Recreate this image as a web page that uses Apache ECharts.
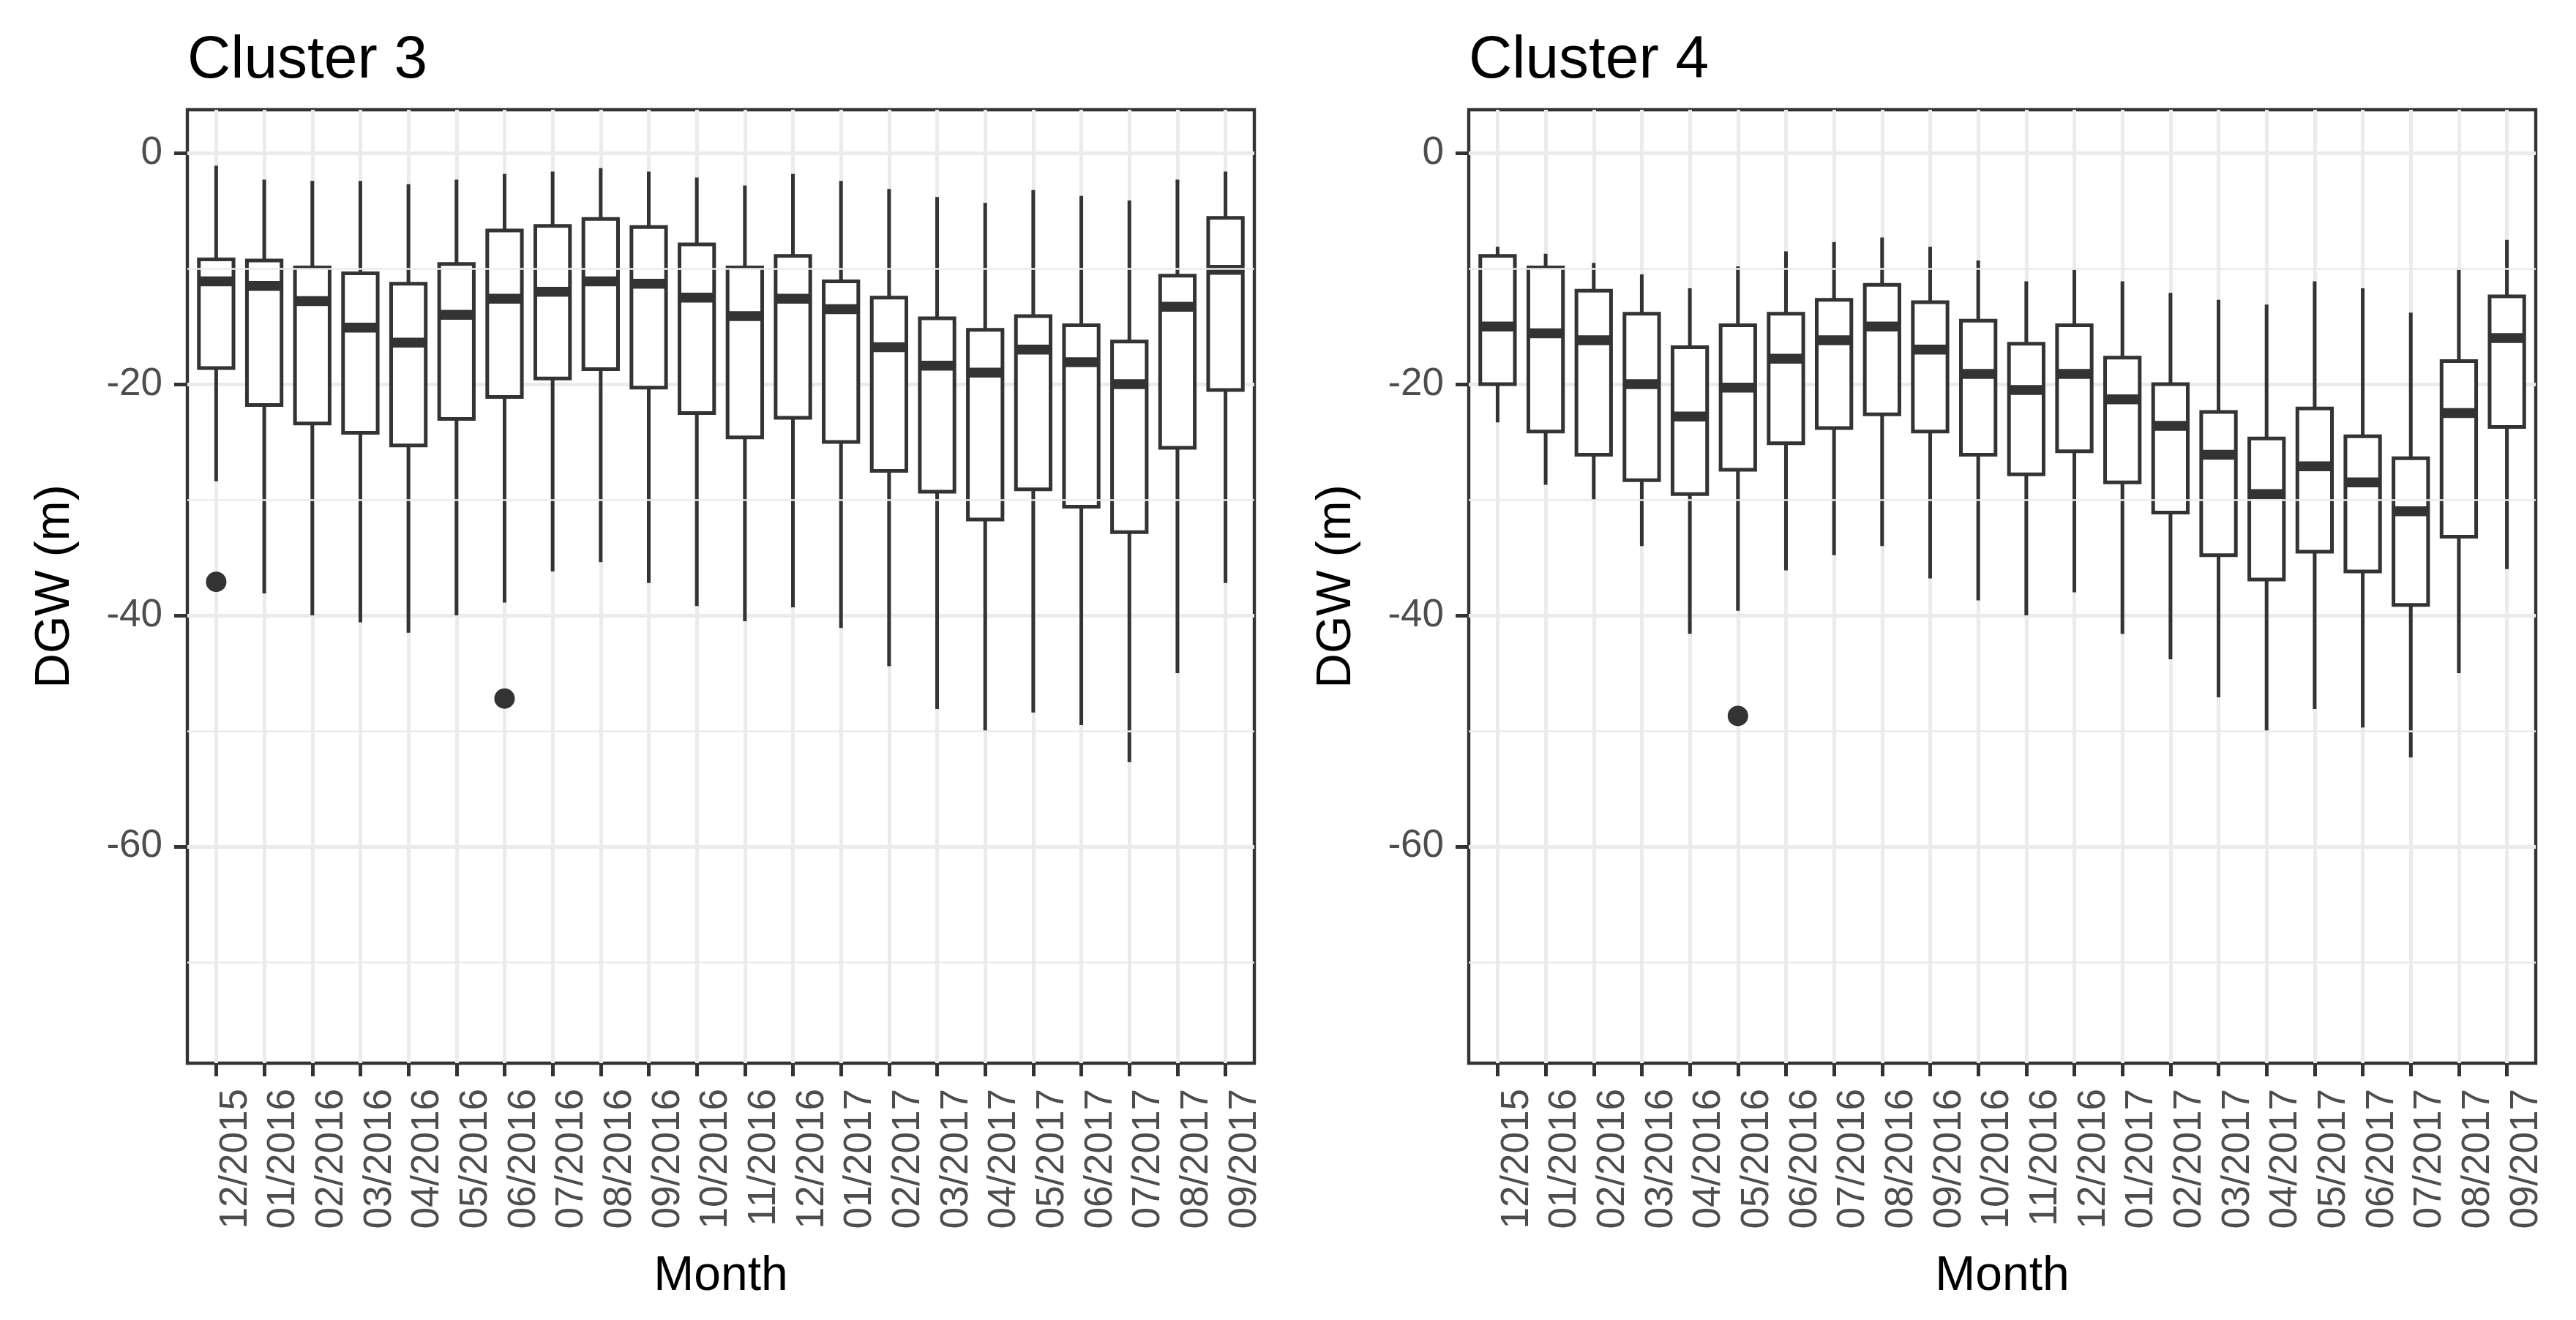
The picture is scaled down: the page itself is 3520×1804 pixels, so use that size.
<!DOCTYPE html>
<html>
<head>
<meta charset="utf-8">
<title>DGW by month</title>
<script src="https://cdn.jsdelivr.net/npm/echarts@6/dist/echarts.min.js"></script>
<style>
  html, body { margin: 0; padding: 0; background: #fff; }
  #chart { width: 3520px; height: 1804px; }
</style>
</head>
<body>
<div id="chart"></div>
<script>
// month labels on the x axis
const months = [
  '12/2015', '01/2016', '02/2016', '03/2016', '04/2016', '05/2016', '06/2016',
  '07/2016', '08/2016', '09/2016', '10/2016', '11/2016', '12/2016', '01/2017',
  '02/2017', '03/2017', '04/2017', '05/2017', '06/2017', '07/2017', '08/2017', '09/2017'
];

// Cluster 3 : whisker low, Q1, median, Q3, whisker high
const c3Low = [-28.4, -38.1, -40.0, -40.6, -41.5, -40.0, -38.9, -36.2, -35.4, -37.2, -39.2, -40.5, -39.3, -41.1, -44.4, -48.1, -50.0, -48.4, -49.5, -52.7, -45.0, -37.2];
const c3Q1 = [-18.6, -21.8, -23.4, -24.2, -25.3, -23.0, -21.1, -19.5, -18.7, -20.3, -22.5, -24.6, -22.9, -25.0, -27.5, -29.3, -31.7, -29.1, -30.6, -32.8, -25.5, -20.5];
const c3Med = [-11.1, -11.5, -12.8, -15.1, -16.4, -14.0, -12.6, -12.0, -11.1, -11.3, -12.5, -14.1, -12.6, -13.5, -16.8, -18.4, -19.0, -17.0, -18.1, -20.0, -13.3, -10.1];
const c3Q3 = [-9.2, -9.3, -9.9, -10.4, -11.3, -9.6, -6.7, -6.3, -5.7, -6.4, -7.9, -9.9, -8.9, -11.1, -12.5, -14.3, -15.3, -14.1, -14.9, -16.3, -10.6, -5.6];
const c3High = [-1.1, -2.3, -2.4, -2.4, -2.7, -2.3, -1.8, -1.6, -1.3, -1.6, -2.1, -2.8, -1.8, -2.4, -3.1, -3.8, -4.3, -3.2, -3.7, -4.1, -2.3, -1.6];
const c3OutMonth = [0, 6];
const c3OutValue = [-37.1, -47.2];

// Cluster 4
const c4Low = [-23.3, -28.7, -30.0, -34.0, -41.6, -39.6, -36.1, -34.8, -34.0, -36.8, -38.7, -40.0, -38.0, -41.6, -43.8, -47.1, -50.0, -48.1, -49.7, -52.3, -45.0, -36.0];
const c4Q1 = [-20.0, -24.1, -26.1, -28.3, -29.5, -27.4, -25.1, -23.8, -22.6, -24.1, -26.1, -27.8, -25.8, -28.5, -31.1, -34.8, -36.9, -34.5, -36.2, -39.1, -33.2, -23.7];
const c4Med = [-15.0, -15.6, -16.2, -20.0, -22.8, -20.3, -17.8, -16.2, -15.0, -17.0, -19.1, -20.5, -19.1, -21.3, -23.6, -26.1, -29.5, -27.1, -28.5, -31.0, -22.5, -16.0];
const c4Q3 = [-8.9, -9.9, -11.9, -13.9, -16.8, -14.9, -13.9, -12.7, -11.4, -12.9, -14.5, -16.5, -14.9, -17.7, -20.0, -22.4, -24.7, -22.1, -24.5, -26.4, -18.0, -12.4];
const c4High = [-8.1, -8.7, -9.5, -10.5, -11.7, -9.8, -8.5, -7.7, -7.3, -8.1, -9.3, -11.1, -10.1, -11.1, -12.1, -12.7, -13.1, -11.1, -11.7, -13.8, -10.1, -7.5];
const c4OutMonth = [5];
const c4OutValue = [-48.7];

// y axis
const yMajor = [0, -20, -40, -60];
const yMinor = [-10, -30, -50, -70];

const FONT = "'Liberation Sans', Arial, Helvetica, sans-serif";
const INK = '#333333';
const GRID = '#ebebeb';
const monthIdx = months.map((m, i) => i);

function boxRows(low, q1, med, q3, high) {
  return months.map((m, i) => [i, low[i], q1[i], med[i], q3[i], high[i]]);
}

function renderBox(params, api) {
  const x = api.value(0);
  const lo = api.coord([x, api.value(1)]);
  const q1 = api.coord([x, api.value(2)]);
  const md = api.coord([x, api.value(3)]);
  const q3 = api.coord([x, api.value(4)]);
  const hi = api.coord([x, api.value(5)]);
  const w = api.size([0.72, 0])[0];
  const cx = md[0];
  return {
    type: 'group',
    children: [
      { type: 'line', shape: { x1: cx, y1: hi[1], x2: cx, y2: lo[1] },
        style: { stroke: INK, lineWidth: 5 } },
      { type: 'rect', shape: { x: cx - w / 2, y: q3[1], width: w, height: q1[1] - q3[1] },
        style: { fill: '#fff', stroke: INK, lineWidth: 5 } },
      { type: 'line', shape: { x1: cx - w / 2, y1: md[1], x2: cx + w / 2, y2: md[1] },
        style: { stroke: INK, lineWidth: 13.5, lineCap: 'butt' } }
    ]
  };
}

const panels = [
  { title: 'Cluster 3', left: 256, low: c3Low, q1: c3Q1, med: c3Med, q3: c3Q3, high: c3High,
    outMonth: c3OutMonth, outValue: c3OutValue },
  { title: 'Cluster 4', left: 2007, low: c4Low, q1: c4Q1, med: c4Med, q3: c4Q3, high: c4High,
    outMonth: c4OutMonth, outValue: c4OutValue }
];

const grids = [], xAxes = [], yAxes = [], titles = [], series = [];

panels.forEach((p, g) => {
  grids.push({
    left: p.left, top: 150, width: 1458, height: 1303,
    show: true, backgroundColor: '#fff', borderColor: INK, borderWidth: 4.4,
    containLabel: false
  });
  titles.push({
    text: p.title, left: p.left, top: 42, padding: 0,
    textStyle: { fontFamily: FONT, fontSize: 82, fontWeight: 'normal', color: '#000' }
  });
  xAxes.push({
    type: 'value', gridIndex: g, min: -0.6, max: 21.6,
    axisLine: { show: false, onZero: false },
    axisTick: { show: true, customValues: monthIdx, length: 18,
      lineStyle: { color: INK, width: 5 } },
    axisLabel: {
      customValues: monthIdx, formatter: v => months[v],
      rotate: 90, margin: 35, fontFamily: FONT, fontSize: 53, color: '#4d4d4d',
      verticalAlign: 'top', lineHeight: 53
    },
    splitLine: { show: true, lineStyle: { color: GRID, width: 5 } },
    name: 'Month', nameLocation: 'middle', nameGap: 259, nameMoveOverlap: false,
    nameTextStyle: { fontFamily: FONT, fontSize: 66, color: '#000' }
  });
  yAxes.push({
    type: 'value', gridIndex: g, min: -78.75, max: 3.75,
    axisLine: { show: false, onZero: false },
    axisTick: { show: true, customValues: yMajor, length: 18,
      lineStyle: { color: INK, width: 5 } },
    axisLabel: { customValues: yMajor, margin: 34, fontFamily: FONT, fontSize: 53, color: '#4d4d4d' },
    splitLine: { show: true, lineStyle: { color: GRID, width: 5 } },
    name: 'DGW (m)', nameLocation: 'middle', nameGap: 147, nameMoveOverlap: false,
    nameTextStyle: { fontFamily: FONT, fontSize: 66, color: '#000' }
  });
  // minor horizontal grid lines
  series.push({
    type: 'line', xAxisIndex: g, yAxisIndex: g, data: [], z: 1, silent: true,
    markLine: {
      silent: true, symbol: ['none', 'none'], label: { show: false },
      lineStyle: { color: GRID, width: 2.6, type: 'solid' },
      emphasis: { disabled: true },
      data: yMinor.map(v => ({ yAxis: v }))
    }
  });
  series.push({
    type: 'custom', name: p.title, xAxisIndex: g, yAxisIndex: g, z: 3,
    renderItem: renderBox,
    encode: { x: 0, y: [1, 2, 3, 4, 5] },
    data: boxRows(p.low, p.q1, p.med, p.q3, p.high)
  });
  series.push({
    type: 'scatter', xAxisIndex: g, yAxisIndex: g, z: 4,
    symbol: 'circle', symbolSize: 28,
    itemStyle: { color: INK, opacity: 1 },
    data: p.outMonth.map((m, i) => [m, p.outValue[i]])
  });
});

const chart = echarts.init(document.getElementById('chart'));
chart.setOption({
  animation: false,
  backgroundColor: '#fff',
  textStyle: { fontFamily: FONT },
  title: titles,
  grid: grids,
  xAxis: xAxes,
  yAxis: yAxes,
  series: series
});
</script>
</body>
</html>
